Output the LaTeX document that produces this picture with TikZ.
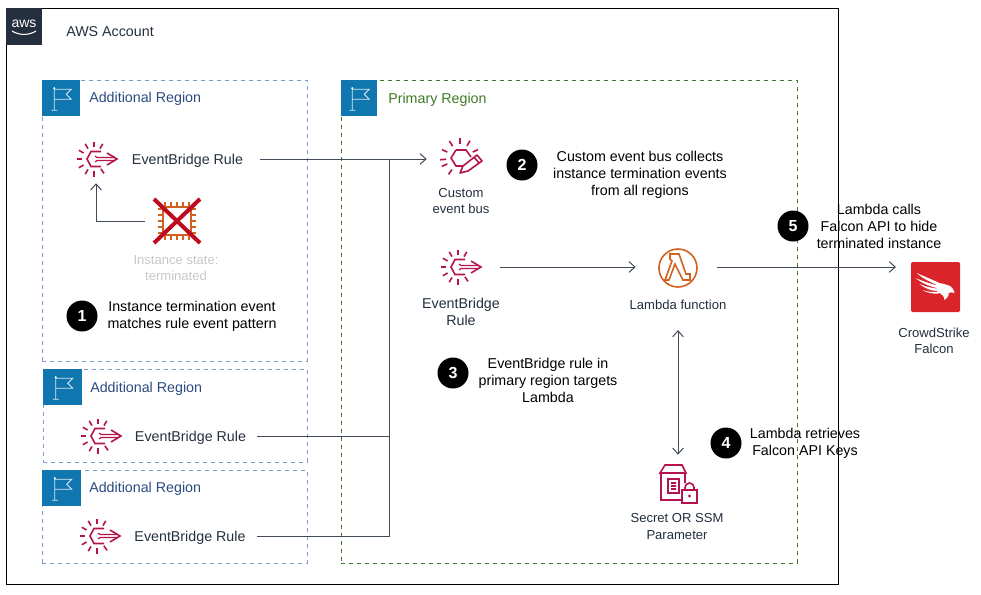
\documentclass[tikz,border=0pt]{standalone}
\usepackage{fontspec}
\setmainfont{Liberation Sans}
\usetikzlibrary{arrows.meta}
\definecolor{awsdark}{HTML}{232F3E}
\definecolor{regionblue}{HTML}{0F76B0}
\definecolor{regiontext}{HTML}{2A4A80}
\definecolor{regiondash}{HTML}{7C9CD0}
\definecolor{primarytext}{HTML}{3F7A26}
\definecolor{primarydash}{HTML}{3F7A26}
\definecolor{rulecrimson}{HTML}{B5134F}
\definecolor{lambdaorange}{HTML}{D2601F}
\definecolor{crossred}{HTML}{BE0A1E}
\definecolor{falconred}{HTML}{D9252A}
\definecolor{linegrey}{HTML}{414B58}
\newcommand{\pxl}{0.75pt}
\newcommand{\bigtext}{\fontsize{10.7}{12.75}\selectfont}
\newcommand{\smalltext}{\fontsize{9.8}{12.2}\selectfont}
\tikzset{
	line/.style={draw=linegrey,line width=0.75pt,-{Straight Barb[length=4.5pt,width=8pt]}},
	plainline/.style={draw=linegrey,line width=0.75pt},
	regionbox/.style={draw=regiondash,dashed,line width=0.6pt,anchor=north west,inner sep=0pt},
	flagbox/.style={fill=regionblue,anchor=north west,inner sep=0pt,minimum width=38*\pxl,minimum height=36*\pxl},
	title/.style={anchor=west,inner sep=0pt,font=\bigtext,text=regiontext},
	caption/.style={align=center,inner sep=0pt,font=\smalltext,text=awsdark},
	steptext/.style={align=center,inner sep=0pt,font=\bigtext,text=black},
	stepdot/.style={circle,fill=black,text=white,inner sep=0pt,minimum size=31*\pxl,font=\fontsize{12}{12}\selectfont\bfseries},
	rulename/.style={inner ysep=2pt,inner xsep=#1*\pxl,font=\bigtext,text=awsdark},
	iconbox/.style={inner sep=0pt,minimum width=#1*\pxl,minimum height=48*\pxl},
	flag/.pic={
		\draw[white!85!regionblue,line width=0.6pt] (-7,-11) -- (-7,12) (-10,12) -- (-4,12)
			(-7,-9) -- (10,-9) -- (5,-4) -- (10,1) -- (-7,1);
		\fill[white] (-7,-10) circle (1.2);
	},
	burst/.pic={
		\foreach \a in {55,90,120,150,180,210,240,270,300}
			\draw[rulecrimson,line width=1.2pt] (-2,0)++(\a:12) -- ++(\a:5.5);
		\draw[rulecrimson,line width=1.2pt] (5,-7.5) -- (-5,-7.5) -- (-9,0) -- (-5,7.5) -- (5,7.5);
		\draw[rulecrimson,line width=0.9pt] (-1,-3) -- (1,-1.5) -- (19,-1.5) (-1,3) -- (1,1.5) -- (19,1.5);
		\draw[rulecrimson,line width=1.2pt] (11,-6) -- (21,0) -- (11,6);
	},
	busburst/.pic={
		\foreach \a in {-25,-60,-90,-122,-155,-185,155,125}
			\draw[rulecrimson,line width=1.2pt] (\a:14) -- (\a:20);
		\draw[rulecrimson,line width=1.2pt] (-4,-8) -- (6,-8) -- (11,-1) (3,8) -- (-4,8) -- (-9,0) -- (-4,-8);
		\draw[rulecrimson,line width=1.2pt,line join=round] (0,15) -- (3,8) -- (17,-3) -- (22,3) -- (8,13) -- cycle (14,-1) -- (19,5);
	},
	lambdaicon/.pic={
		\draw[lambdaorange,line width=1.2pt] (0,0) circle (19);
		\draw[lambdaorange,line width=1.2pt,line join=miter] (-8,-14) -- (1,-14) -- (8,6) -- (12,6) -- (12,12) -- (5,12)
			-- (-3,-4) -- (-9,12) -- (-13,12) -- (-6,-7) -- (-8,-9) -- cycle;
	},
	secreticon/.pic={
		\draw[rulecrimson,line width=1.2pt] (-18,-11) -- (-13,-19) -- (4,-19) -- (8,-11) -- cycle
			(-17,-11) -- (-17,16) -- (3,16) (7,-11) -- (7,-1)
			(-10,-5) rectangle (1,9) (-7,-1) -- (-2,-1) (-7,2) -- (-2,2) (-7,5) -- (-2,5);
		\draw[rulecrimson,line width=1.2pt] (4,6) rectangle (19,19)
			(7,6) -- (7,3.5) arc[start angle=180,end angle=360,radius=4.5] -- (16,6);
		\fill[rulecrimson] (11.5,12) circle (1.6);
	},
	chipicon/.pic={
		\draw[lambdaorange,line width=1pt] (-14,-14) rectangle (14,14);
		\foreach \t in {-12,-6,0,6,12}{
			\draw[lambdaorange,line width=0.8pt] (\t,-14) -- (\t,-19) (\t,14) -- (\t,19) (-14,\t) -- (-19,\t) (14,\t) -- (19,\t);
		}
		\draw[crossred,line width=3pt] (-23,-22) -- (23,22) (-23,22) -- (23,-22);
	},
	falconicon/.pic={
		% wing streaks
		\fill[white] (-19,-14) .. controls (-10,-10) and (-2,-7) .. (6,-3) -- (2,-2) .. controls (-6,-5) and (-13,-9) .. (-19,-14) -- cycle;
		\fill[white] (-20,-9) .. controls (-11,-5) and (-4,-3) .. (4,-1) -- (1,1) .. controls (-7,-1) and (-14,-4) .. (-20,-9) -- cycle;
		\fill[white] (-16,-3) .. controls (-9,0) and (-3,1) .. (4,2) -- (2,4) .. controls (-5,4) and (-11,1) .. (-16,-3) -- cycle;
		\fill[white] (-13,3) .. controls (-8,5) and (-3,5) .. (3,5) -- (3,6.5) .. controls (-3,7) and (-8,6) .. (-13,3) -- cycle;
		% body and head
		\fill[white] (0,-4) .. controls (6,-4) and (9,-3) .. (12,-2) .. controls (16,-1) and (18,2) .. (19,6)
			.. controls (17,5) and (15,5) .. (13,6) .. controls (14,9) and (11,11) .. (9,13)
			.. controls (9,9) and (6,7) .. (2,5) .. controls (1,2) and (0,-1) .. (0,-4) -- cycle;
	},
}

\begin{document}
\begin{tikzpicture}[x=\pxl,y=-\pxl]
	\useasboundingbox (0,0) rectangle (981,594);
	% account frame
	\node (account) [draw=black,line width=0.75pt,anchor=north west,inner sep=0pt,minimum width=832*\pxl,minimum height=576*\pxl] at (6,8) {};
	\node (awsbox) [fill=awsdark,anchor=north west,inner sep=0pt,minimum width=36*\pxl,minimum height=37*\pxl] at (6,8) {};
	\node (awslogo) [text=white,inner sep=0pt,font=\fontsize{10.5}{10.5}\selectfont] at (24,24) {aws};
	\draw[white,line width=0.8pt] (12,31) .. controls (20,36) and (30,35) .. (36,31);
	\node (accounttitle) [title,text=awsdark] at (66,32) {AWS Account};
	% regions
	\node (regionA) [regionbox,minimum width=265*\pxl,minimum height=281*\pxl] at (42,80) {};
	\node (regionB) [regionbox,minimum width=264*\pxl,minimum height=93*\pxl] at (43,369) {};
	\node (regionC) [regionbox,minimum width=265*\pxl,minimum height=93*\pxl] at (42,470) {};
	\node (primary) [regionbox,draw=primarydash,minimum width=456*\pxl,minimum height=483*\pxl] at (341,80) {};
	\node (flagA) [flagbox] at (42,80) {};
	\node (flagB) [flagbox,minimum width=39*\pxl] at (43,369) {};
	\node (flagC) [flagbox,minimum width=39*\pxl] at (42,470) {};
	\node (flagP) [flagbox,minimum width=36*\pxl] at (341,80) {};
	\pic at (flagA) {flag};
	\pic at (flagB) {flag};
	\pic at (flagC) {flag};
	\pic at (flagP) {flag};
	\node (titleA) [title] at (89,99) {Additional Region};
	\node (titleB) [title] at (90,389) {Additional Region};
	\node (titleC) [title] at (89,489) {Additional Region};
	\node (titleP) [title,text=primarytext] at (388,100) {Primary Region};
	% icons
	\node (burstA) [iconbox=48] at (96,159) {};
	\node (burstB) [iconbox=48] at (100,436) {};
	\node (burstC) [iconbox=48] at (99,536) {};
	\node (burstD) [iconbox=80] at (460,267) {};
	\node (bus) [iconbox=66] at (460,159) {};
	\node (chip) [iconbox=64] at (177,221) {};
	\node (lambda) [iconbox=81] at (676.5,267) {};
	\node (secret) [iconbox=42,minimum height=58*\pxl] at (678,484) {};
	\node (falcon) [fill=falconred,rounded corners=1pt,inner sep=0pt,minimum width=49*\pxl,minimum height=50*\pxl,outer xsep=15*\pxl] at (935.5,287) {};
	\pic at (burstA) {burst};
	\pic at (burstB) {burst};
	\pic at (burstC) {burst};
	\pic at (burstD) {burst};
	\pic at ([yshift=0.75pt]bus) {busburst};
	\pic at (chip) {chipicon};
	\pic at ([xshift=1.1pt,yshift=-0.75pt]lambda) {lambdaicon};
	\pic at (secret) {secreticon};
	\pic at (falcon) {falconicon};
	% labels
	\node (ruleA) [rulename=17] at (187.5,160.5) {EventBridge Rule};
	\node (ruleB) [rulename=11] at (190.5,437.5) {EventBridge Rule};
	\node (ruleC) [rulename=11] at (190,537.5) {EventBridge Rule};
	\node (ruleD) [caption,font=\bigtext] at (461,311.5) {EventBridge\\Rule};
	\node (buslabel) [caption] at (461,201) {Custom\\event bus};
	\node (chiplabel) [caption,text=black!22] at (176,268) {Instance state:\\terminated};
	\node (lambdalabel) [caption,inner ysep=20*\pxl] at (678,305) {Lambda function};
	\node (secretlabel) [caption] at (677,526.5) {Secret OR SSM\\Parameter};
	\node (falconlabel) [caption] at (934,340.5) {CrowdStrike\\Falcon};
	% numbered steps
	\node (dot1) [stepdot] at (82,316) {1};
	\node (dot2) [stepdot] at (522,165) {2};
	\node (dot3) [stepdot] at (453,373) {3};
	\node (dot4) [stepdot] at (726,443) {4};
	\node (dot5) [stepdot] at (793,226) {5};
	\node (text1) [steptext] at (192,316) {Instance termination event\\matches rule event pattern};
	\node (text2) [steptext] at (640,175) {Custom event bus collects\\instance termination events\\from all regions};
	\node (text3) [steptext] at (548,380) {EventBridge rule in\\primary region targets\\Lambda};
	\node (text4) [steptext] at (805,443) {Lambda retrieves\\Falcon API Keys};
	\node (text5) [steptext] at (879,226) {Lambda calls\\Falcon API to hide\\terminated instance};
	% connectors
	\coordinate (join) at (389,159);
	\coordinate (falconin) at (falcon.west |- lambda.east);
	\draw[line] (ruleA.east |- join) -- (bus.west);
	\draw[line] (chip.west) -| (burstA.south);
	\draw[line] (burstD.east) -- (lambda.west);
	\draw[line] (lambda.east) -- (falconin);
	\draw[plainline] (ruleB.east |- burstB) -| (join);
	\draw[plainline] (ruleC.east |- burstC) -| (join);
	\draw[line,{Straight Barb[length=4.5pt,width=8pt]}-{Straight Barb[length=4.5pt,width=8pt]}] (lambdalabel.south) -- (secret.north);
\end{tikzpicture}
\end{document}
